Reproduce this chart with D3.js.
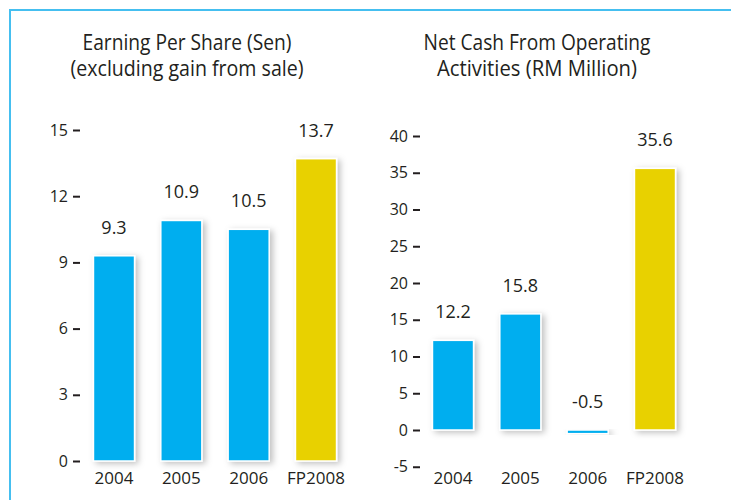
<!DOCTYPE html>
<html>
<head>
<meta charset="utf-8">
<script src="https://cdn.jsdelivr.net/npm/d3@7"></script>
<style>
  body { margin: 0; background: #fff; }
  svg text { font-family: "Open Sans", sans-serif; fill: #231f20; }
</style>
</head>
<body>
<svg id="chart" width="731" height="500"></svg>
<script>
const years = ["2004", "2005", "2006", "FP2008"],
    epsValues = [9.3, 10.9, 10.5, 13.7],
    epsTicks = [0, 3, 6, 9, 12, 15],
    cashValues = [12.2, 15.8, -0.5, 35.6],
    cashTicks = [-5, 0, 5, 10, 15, 20, 25, 30, 35, 40],
    barColors = ["#00aeef", "#00aeef", "#00aeef", "#e8d100"];

const svg = d3.select("#chart");

// soft shadow behind the bars
const shadow = svg.append("defs").append("filter")
    .attr("id", "shadow")
    .attr("x", "-30%").attr("y", "-10%")
    .attr("width", "170%").attr("height", "130%");
shadow.append("feDropShadow")
    .attr("dx", 3).attr("dy", 2)
    .attr("stdDeviation", 3)
    .attr("flood-color", "#000")
    .attr("flood-opacity", 0.25);

// frame lines
svg.append("line")
    .attr("x1", 9).attr("x2", 731).attr("y1", 10).attr("y2", 10)
    .attr("stroke", "#45bff0").attr("stroke-width", 2);
svg.append("line")
    .attr("x1", 10).attr("x2", 10).attr("y1", 9).attr("y2", 500)
    .attr("stroke", "#45bff0").attr("stroke-width", 2);

function drawPanel(opts) {
    const g = svg.append("g");

    const y = d3.scaleLinear()
        .domain(opts.domain)
        .range(opts.yRange);

    const x = d3.scaleBand()
        .domain(years)
        .range(opts.xRange)
        .paddingInner(0.39)
        .paddingOuter(0.2);

    // title
    const t = g.append("text")
        .attr("text-anchor", "middle")
        .attr("font-size", 21);
    opts.title.forEach((line, i) => {
        t.append("tspan")
            .attr("x", opts.titleX)
            .attr("y", 50 + i * 26)
            .attr("textLength", opts.titleLen[i])
            .attr("lengthAdjust", "spacingAndGlyphs")
            .text(line);
    });

    // y axis: short dashes, no domain line
    const axis = g.append("g")
        .attr("transform", `translate(${opts.axisX},0)`)
        .call(d3.axisLeft(y).tickValues(opts.ticks).tickSize(7).tickFormat(d => String(d)));
    axis.select(".domain").remove();
    axis.selectAll(".tick line")
        .attr("stroke", "#231f20")
        .attr("stroke-width", 2)
        .attr("transform", "translate(7,0)");
    axis.selectAll(".tick text")
        .attr("x", -5)
        .attr("font-size", 16)
        .attr("fill", "#231f20")
        .attr("font-family", "Open Sans, sans-serif");

    // bars
    g.selectAll("rect.bar")
        .data(opts.values)
        .enter()
        .append("rect")
        .attr("class", "bar")
        .attr("x", (d, i) => x(years[i]))
        .attr("width", x.bandwidth())
        .attr("y", d => y(Math.max(0, d)))
        .attr("height", d => Math.abs(y(d) - y(0)))
        .attr("fill", (d, i) => barColors[i])
        .attr("stroke", "#fff")
        .attr("stroke-width", 1.5)
        .attr("filter", "url(#shadow)");

    // value labels
    g.selectAll("text.val")
        .data(opts.values)
        .enter()
        .append("text")
        .attr("class", "val")
        .attr("text-anchor", "middle")
        .attr("font-size", 18)
        .attr("x", (d, i) => x(years[i]) + x.bandwidth() / 2)
        .attr("y", d => y(Math.max(0, d)) - 22)
        .text(d => d);

    // category labels
    g.selectAll("text.cat")
        .data(years)
        .enter()
        .append("text")
        .attr("class", "cat")
        .attr("text-anchor", "middle")
        .attr("font-size", 17)
        .attr("x", d => x(d) + x.bandwidth() / 2)
        .attr("y", 484)
        .text(d => d);
}

drawPanel({
    values: epsValues,
    ticks: epsTicks,
    domain: [0, 15],
    yRange: [461, 130],
    xRange: [80, 350],
    axisX: 73,
    title: ["Earning Per Share (Sen)", "(excluding gain from sale)"],
    titleX: 187,
    titleLen: [209, 233]
});

drawPanel({
    values: cashValues,
    ticks: cashTicks,
    domain: [-5, 40],
    yRange: [466.75, 136],
    xRange: [419, 689],
    axisX: 413,
    title: ["Net Cash From Operating", "Activities (RM Million)"],
    titleX: 537,
    titleLen: [227, 200]
});
</script>
</body>
</html>
